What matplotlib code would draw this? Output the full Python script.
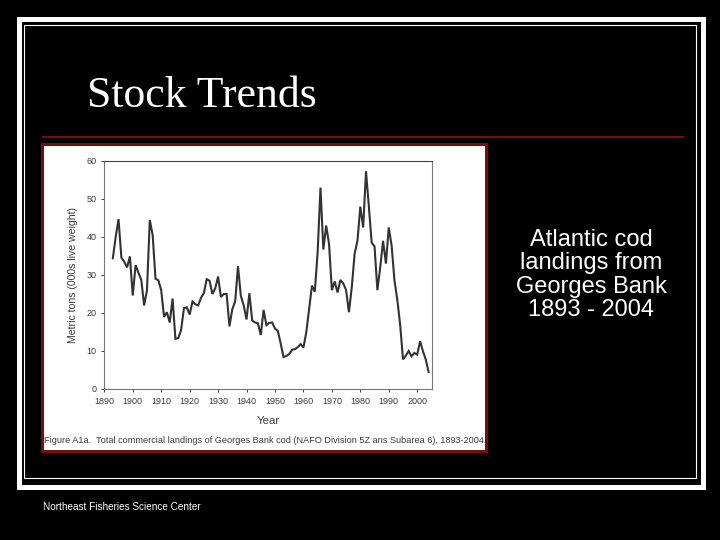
import matplotlib
matplotlib.use("Agg")
import matplotlib.pyplot as plt
from matplotlib.patches import Rectangle

years = list(range(1893, 2005))
landings = [34.4, 40, 44.7, 34.6, 33.5, 32, 34.9, 24.6, 32.6, 30.6,
            28.7, 22, 26, 44.5, 40.5, 29, 28.6, 26, 19, 20.2,
            17.5, 23.8, 13.2, 13.4, 15.5, 21.3, 21.5, 19.6, 23, 22.3,
            22, 24, 25.2, 28.9, 28.5, 25, 26.5, 29.6, 24.2, 25,
            25, 16.5, 21, 23, 32.3, 24.5, 22, 18.3, 25.2, 18,
            17.5, 17.3, 14.2, 20.8, 16.8, 17.4, 17.5, 15.9, 15.3, 12,
            8.4, 8.7, 9.2, 10.3, 10.5, 11, 11.8, 10.9, 14.9, 21,
            27.2, 25.6, 36, 53, 36.7, 43, 38.2, 26, 28.3, 25.4,
            28.7, 27.8, 26, 20.2, 26.8, 35.6, 39, 48, 42.5, 57.3,
            48, 38.5, 37.5, 26, 32, 39, 33, 42.5, 37.8, 28.6,
            23.5, 17, 7.8, 8.8, 10, 8.6, 9.5, 9, 12.6, 10,
            7.8, 4.5]
x_ticks = list(range(1890, 2010, 10))
y_ticks = [0, 10, 20, 30, 40, 50, 60]

W, H = 720, 540
DARK_RED = "#7a0c0c"
INK = "#3a3a3a"


def box(x0, y0, x1, y1, **kw):
    # pixel coords, y from the top
    fig.add_artist(Rectangle((x0 / W, 1 - y1 / H), (x1 - x0) / W, (y1 - y0) / H,
                             transform=fig.transFigure, **kw))


def label(x, y, s, **kw):
    fig.text(x / W, 1 - y / H, s, **kw)


fig = plt.figure(figsize=(7.2, 5.4), dpi=100, facecolor="black")

# slide frame
box(18.5, 18.5, 702.5, 486.5, fill=False, ec="white", lw=3.6)
box(24.5, 24.5, 696, 478, fill=False, ec="white", lw=0.8)
# rule under the title
box(42, 135.5, 684, 137.5, fc=DARK_RED, ec="none")
# scanned figure with its red border
box(41, 143, 488, 453, fc=DARK_RED, ec="none")
box(43.5, 146, 485, 449.5, fc="white", ec="none")

ax = fig.add_axes([104.3 / W, 1 - 389 / H, (432 - 104.3) / W, (389 - 161) / H])
ax.set_zorder(5)
ax.plot(years, landings, color="#333333", lw=1.5, solid_joinstyle="miter")
ax.set_xlim(1890, 2005.2)
ax.set_ylim(0, 60)
ax.set_xticks(x_ticks)
ax.set_yticks(y_ticks)
ax.tick_params(labelsize=6.5, colors=INK, length=2.5, width=0.7, pad=3)
for t in ax.get_xticklabels() + ax.get_yticklabels():
    t.set_family("Liberation Sans")
for spine in ax.spines.values():
    spine.set_color("#777777")
    spine.set_linewidth(0.8)
ax.spines["top"].set_color("#444444")

label(268, 421, "Year", fontsize=8.2, color=INK, ha="center", va="center",
      family="Liberation Sans", zorder=6)
label(72.7, 275, "Metric tons (000s live weight)", fontsize=7.6, color=INK, rotation=90,
      ha="center", va="center", family="Liberation Sans", zorder=6)
label(43.5, 440.5,
      "Figure A1a.  Total commercial landings of Georges Bank cod (NAFO Division 5Z ans Subarea 6), 1893-2004.",
      fontsize=6.55, color=INK, va="center", family="Liberation Sans", zorder=6)

# slide text
label(87, 96, "Stock Trends", fontsize=31.5, color="white", va="center",
      family="Liberation Serif")
for y, line in zip([240, 263, 286.5, 310],
                   ["Atlantic cod", "landings from", "Georges Bank", "1893 - 2004"]):
    label(591.5, y, line, fontsize=17, color="white", ha="center", va="center",
          family="Liberation Sans")
label(43, 507.5, "Northeast Fisheries Science Center", fontsize=7.2, color="white",
      va="center", family="Liberation Sans")

fig.savefig("out.png", dpi=100, facecolor="black")
